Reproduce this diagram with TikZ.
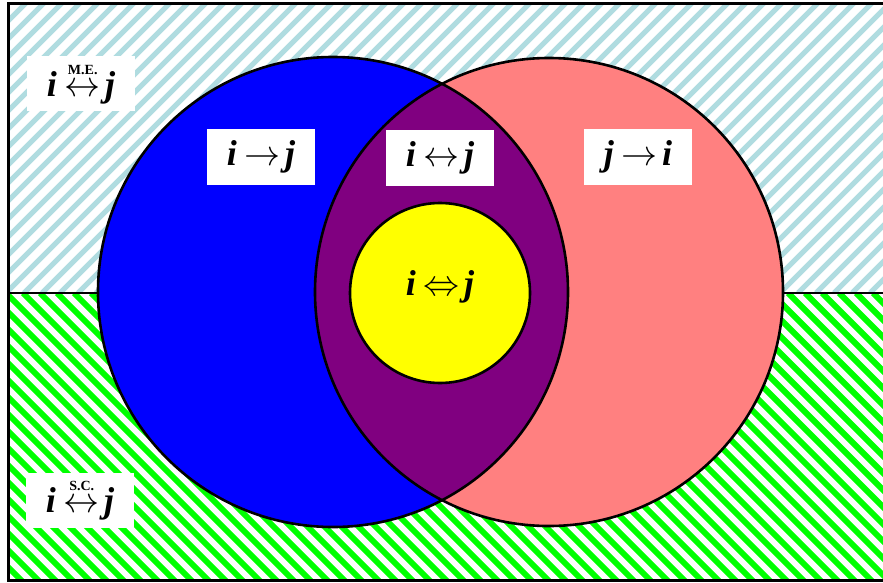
\RequirePackage{fix-cm}
\documentclass[tikz,border=0pt]{standalone}
\usepackage{fontspec}
\setmainfont{Liberation Serif}

\definecolor{skyc}{HTML}{B0DCE0}
\definecolor{grassc}{HTML}{00FF00}
\definecolor{leftc}{HTML}{0000FF}
\definecolor{rightc}{HTML}{FF8080}
\definecolor{lensc}{HTML}{800080}
\definecolor{corec}{HTML}{FFFF00}

\newcommand{\bi}[1]{\textbf{\textit{#1}}}
\newcommand{\relij}[3]{\bi{#1}\hspace{0.22em}$#2$\hspace{0.12em}\bi{#3}}
\newcommand{\tagarrow}[1]{\mathrel{\mathop{\leftrightarrow}\limits^{\raisebox{7pt}{\fontsize{14}{14}\selectfont\bfseries #1}}}}

\begin{document}
\begin{tikzpicture}[
    x=1pt, y=-1pt,
    lbl/.style={fill=white, minimum width=108pt, minimum height=55pt,
                inner sep=0pt, font=\fontsize{36}{36}\selectfont},
    ring/.style={draw=black, line width=2.6pt}
  ]
  \useasboundingbox (0,0) rectangle (883,583);
  % hatched halves
  \fill[white] (8,4) rectangle (886,580);
  \begin{scope}
    \clip (8,4) rectangle (886,293);
    \foreach \x in {-300,-282,...,900}
      \draw[skyc, line width=5pt] (\x,293) -- ++(300,-300);
  \end{scope}
  \begin{scope}
    \clip (8,293) rectangle (886,580);
    \foreach \x in {-300,-283,...,900}
      \draw[grassc, line width=6pt] (\x,293) -- ++(300,300);
  \end{scope}
  \draw[line width=2.4pt] (8,293) -- (886,293);
  \draw[line width=3pt] (8,4) rectangle (886,580);
  % circles
  \fill[leftc] (333,292) circle (235);
  \fill[rightc] (549,292) circle (234);
  \begin{scope}
    \clip (333,292) circle (235);
    \fill[lensc] (549,292) circle (234);
  \end{scope}
  \draw[ring] (333,292) circle (235);
  \draw[ring] (549,292) circle (234);
  \filldraw[ring, fill=corec] (440,293) circle (90);
  % labels
  \node[lbl] (me) at (81,84) {\relij{i}{\tagarrow{M.E.}}{j}};
  \node[lbl] (sc) at (80,500) {\relij{i}{\tagarrow{S.C.}}{j}};
  \node[lbl] (ij) at (261,157) {\relij{i}{\rightarrow}{j}};
  \node[lbl] (both) at (440,158) {\relij{i}{\leftrightarrow}{j}};
  \node[lbl] (ji) at (638,157) {\relij{j}{\rightarrow}{i}};
  \node[font=\fontsize{36}{36}\selectfont] (eq) at (440,287) {\relij{i}{\Leftrightarrow}{j}};
\end{tikzpicture}
\end{document}
